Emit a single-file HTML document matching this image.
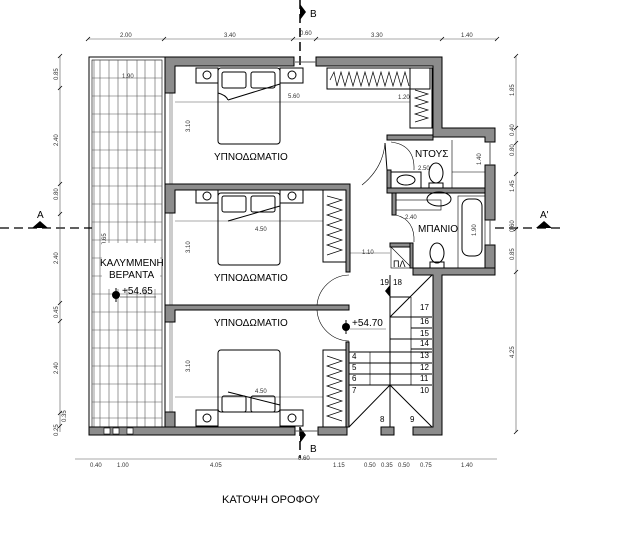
<!DOCTYPE html>
<html><head><meta charset="utf-8"><style>
html,body{margin:0;padding:0;background:#fff}
svg{display:block}
text{font-family:"Liberation Sans",sans-serif}
.w{fill:#8c8c8c;stroke:#000;stroke-width:1}
.t{stroke:#555;stroke-width:.6;fill:none}
.k{stroke:#000;stroke-width:1;fill:none}
.d{font-size:6px;fill:#333}
.r{font-size:10px;fill:#000}
</style></head><body>
<svg width="626" height="535" viewBox="0 0 626 535" xmlns="http://www.w3.org/2000/svg">
<!-- section lines -->
<line x1="300" y1="0" x2="300" y2="66" stroke="#000" stroke-width="1.5" stroke-dasharray="9,5"/>
<line x1="300" y1="427" x2="300" y2="458" stroke="#000" stroke-width="1.5" stroke-dasharray="9,5"/>
<line x1="0" y1="228" x2="92" y2="228" stroke="#000" stroke-width="1.2" stroke-dasharray="9,5"/>
<line x1="495" y1="228" x2="565" y2="228" stroke="#000" stroke-width="1.2" stroke-dasharray="9,5"/>
<polygon points="300,4 306,12 300,20" fill="#000"/><text x="310" y="17" class="r">B</text>
<polygon points="300,427 306,435 300,443" fill="#000"/><text x="310" y="452" class="r">B</text>
<polygon points="32,228 40,221 48,228" fill="#000"/><text x="37" y="218" class="r">A</text>
<polygon points="536,228 544,221 552,228" fill="#000"/><text x="540" y="218" class="r">A'</text>

<!-- dimension lines -->
<g class="t">
<line x1="88" y1="39" x2="497" y2="39"/>
<line x1="75" y1="459" x2="497" y2="459"/>
<line x1="60" y1="56" x2="60" y2="432"/>
<line x1="516" y1="56" x2="516" y2="432"/>
</g>
<g stroke="#000" stroke-width="0.8">
<line x1="86" y1="41" x2="90" y2="37"/><line x1="162" y1="41" x2="166" y2="37"/><line x1="291" y1="41" x2="295" y2="37"/><line x1="314" y1="41" x2="318" y2="37"/><line x1="440" y1="41" x2="444" y2="37"/><line x1="495" y1="41" x2="499" y2="37"/>
<line x1="58" y1="58" x2="62" y2="54"/><line x1="58" y1="90" x2="62" y2="86"/><line x1="58" y1="186" x2="62" y2="182"/><line x1="58" y1="216" x2="62" y2="212"/><line x1="58" y1="305" x2="62" y2="301"/><line x1="58" y1="323" x2="62" y2="319"/><line x1="58" y1="415" x2="62" y2="411"/><line x1="58" y1="428" x2="62" y2="424"/>
<line x1="514" y1="58" x2="518" y2="54"/><line x1="514" y1="130" x2="518" y2="126"/><line x1="514" y1="145" x2="518" y2="141"/><line x1="514" y1="176" x2="518" y2="172"/><line x1="514" y1="231" x2="518" y2="227"/><line x1="514" y1="274" x2="518" y2="270"/><line x1="514" y1="434" x2="518" y2="430"/>
</g>
<g class="d">
<text x="120" y="37">2.00</text><text x="224" y="37">3.40</text><text x="300" y="35">0.60</text><text x="371" y="37">3.30</text><text x="461" y="37">1.40</text>
<text x="90" y="467">0.40</text><text x="117" y="467">1.00</text><text x="210" y="467">4.05</text><text x="298" y="460">0.60</text><text x="333" y="467">1.15</text><text x="364" y="467">0.50</text><text x="381" y="467">0.35</text><text x="398" y="467">0.50</text><text x="420" y="467">0.75</text><text x="461" y="467">1.40</text>
<g transform="rotate(-90)">
<text x="-80" y="58">0.85</text><text x="-146" y="58">2.40</text><text x="-200" y="58">0.80</text><text x="-264" y="58">2.40</text><text x="-318" y="58">0.45</text><text x="-374" y="58">2.40</text><text x="-422" y="66">0.35</text><text x="-436" y="58">0.25</text>
<text x="-96" y="514">1.85</text><text x="-136" y="514">0.40</text><text x="-156" y="514">0.80</text><text x="-192" y="514">1.45</text><text x="-232" y="514">0.60</text><text x="-260" y="514">0.85</text><text x="-358" y="514">4.25</text>
<text x="-132" y="190">3.10</text><text x="-253" y="190">3.10</text><text x="-372" y="190">3.10</text><text x="-245" y="106">9.65</text>
<text x="-165" y="481">1.40</text><text x="-236" y="476">1.90</text>
</g>
<text x="122" y="78">1.90</text><text x="288" y="98">5.60</text><text x="398" y="99">1.20</text><text x="255" y="231">4.50</text><text x="255" y="393">4.50</text><text x="362" y="254">1.10</text><text x="418" y="170">2.50</text><text x="405" y="219">2.40</text>
</g>

<!-- veranda -->
<rect x="89" y="57" width="76" height="370" fill="none" stroke="#000" stroke-width="1"/>
<rect x="92" y="60" width="70" height="367" fill="none" stroke="#000" stroke-width=".6"/>
<g class="t">
<line x1="94" y1="60" x2="94" y2="427"/><line x1="100" y1="60" x2="100" y2="427"/><line x1="109" y1="60" x2="109" y2="427"/><line x1="118" y1="60" x2="118" y2="427"/><line x1="127" y1="60" x2="127" y2="427"/><line x1="137" y1="60" x2="137" y2="427"/><line x1="145" y1="60" x2="145" y2="427"/><line x1="155" y1="60" x2="155" y2="427"/>
<line x1="92" y1="78" x2="162" y2="78"/><line x1="92" y1="96" x2="162" y2="96"/><line x1="92" y1="114" x2="162" y2="114"/><line x1="92" y1="132" x2="162" y2="132"/><line x1="92" y1="150" x2="162" y2="150"/><line x1="92" y1="168" x2="162" y2="168"/><line x1="92" y1="186" x2="162" y2="186"/><line x1="92" y1="204" x2="162" y2="204"/><line x1="92" y1="222" x2="162" y2="222"/><line x1="92" y1="240" x2="162" y2="240"/><line x1="92" y1="258" x2="162" y2="258"/><line x1="92" y1="276" x2="162" y2="276"/><line x1="92" y1="294" x2="162" y2="294"/><line x1="92" y1="312" x2="162" y2="312"/><line x1="92" y1="330" x2="162" y2="330"/><line x1="92" y1="348" x2="162" y2="348"/><line x1="92" y1="366" x2="162" y2="366"/><line x1="92" y1="384" x2="162" y2="384"/><line x1="92" y1="402" x2="162" y2="402"/><line x1="92" y1="418" x2="162" y2="418"/>
<line x1="170" y1="93" x2="170" y2="184"/><line x1="172" y1="93" x2="172" y2="184"/><line x1="170" y1="213" x2="170" y2="305"/><line x1="172" y1="213" x2="172" y2="305"/><line x1="170" y1="322" x2="170" y2="412"/><line x1="172" y1="322" x2="172" y2="412"/>
<line x1="175" y1="102" x2="410" y2="102"/><line x1="175" y1="221" x2="323" y2="221"/><line x1="175" y1="397" x2="323" y2="397"/><line x1="349" y1="253" x2="390" y2="253"/>
</g>
<rect x="102" y="243" width="58" height="46" fill="#fff"/>
<text x="100" y="266" class="r" font-size="9.5">ΚΑΛΥΜΜΕΝΗ</text>
<text x="109" y="278" class="r" font-size="9.5">ΒΕΡΑΝΤΑ</text>
<circle cx="116" cy="295" r="4" fill="#000"/><line x1="116" y1="288" x2="116" y2="302" stroke="#000"/>
<text x="122" y="294" class="r" font-size="9.5">+54.65</text><line x1="120" y1="297" x2="156" y2="297" stroke="#000" stroke-width=".6"/>

<!-- walls -->
<g class="w">
<path d="M165,57 H294 V66 H175 V93 H165 Z"/>
<path d="M316,57 H442 V128 H495 V142 H485 V137 H433 V66 H316 Z"/>
<rect x="485" y="165" width="10" height="55"/>
<rect x="485" y="245" width="10" height="30"/>
<path d="M413,268 H495 V275 H442 V435 H413 V427 H433 V275 H413 Z"/>
<rect x="89" y="427" width="206" height="8"/>
<rect x="318" y="427" width="29" height="8"/>
<rect x="381" y="427" width="13" height="8"/>
<path d="M165,184 H350 V272 H346 V190 H175 V213 H165 Z"/>
<path d="M165,305 H349 V310 H175 V322 H165 Z"/>
<rect x="346" y="342" width="3" height="85"/>
<rect x="165" y="412" width="10" height="15"/>
<rect x="387" y="135" width="46" height="5"/>
<rect x="387" y="170" width="4" height="20"/>
<rect x="387" y="188" width="98" height="5"/>
<rect x="392" y="193" width="4" height="22"/>
<rect x="390" y="243" width="23" height="4"/>
<rect x="410" y="243" width="3" height="25"/>
</g>
<g fill="#fff" stroke="#000" stroke-width=".6">
<rect x="104" y="428" width="6" height="6"/><rect x="113" y="428" width="6" height="6"/><rect x="127" y="428" width="6" height="6"/>
</g>
<line x1="295" y1="62" x2="316" y2="62" stroke="#555"/><line x1="295" y1="431" x2="318" y2="431" stroke="#555"/>
<line x1="490" y1="142" x2="490" y2="165" stroke="#555"/><line x1="490" y1="220" x2="490" y2="245" stroke="#555"/>

<!-- beds -->
<g class="k" stroke-width=".8">
<rect x="218" y="68" width="62" height="76" rx="3"/><rect x="222" y="72" width="24" height="16" rx="2"/><rect x="251" y="72" width="24" height="16" rx="2"/><path d="M228,100 L280,84"/><path d="M218,93 Q226,95 228,100"/>
<rect x="196" y="68" width="22" height="15"/><rect x="280" y="68" width="23" height="15"/>
<circle cx="207" cy="75" r="4"/><circle cx="292" cy="75" r="4"/>
<rect x="218" y="193" width="62" height="72" rx="3"/><rect x="222" y="196" width="24" height="16" rx="2"/><rect x="251" y="196" width="24" height="16" rx="2"/><path d="M228,221 L280,206"/>
<rect x="196" y="190" width="22" height="13"/><rect x="280" y="190" width="23" height="13"/>
<circle cx="207" cy="196" r="4"/><circle cx="292" cy="196" r="4"/>
<rect x="218" y="350" width="62" height="62" rx="3"/><rect x="222" y="396" width="24" height="16" rx="2"/><rect x="251" y="396" width="24" height="16" rx="2"/><path d="M228,392 L280,405"/>
<rect x="196" y="410" width="22" height="16"/><rect x="280" y="410" width="23" height="16"/>
<circle cx="207" cy="418" r="4"/><circle cx="292" cy="418" r="4"/>
<!-- wardrobes -->
<rect x="327" y="68" width="103" height="21"/><rect x="410" y="68" width="22" height="60"/>
<polyline points="330,80 334,72 337,86 341,72 345,86 349,72 353,86 357,72 361,86 365,72 369,86 373,72 377,86 381,72 385,86 389,72 393,86 397,72 401,86 405,72 409,86" stroke-width=".7"/>
<polyline points="415,90 428,94 415,98 428,102 415,106 428,110 415,114 428,118 415,122" stroke-width=".7"/>
<rect x="323" y="190" width="23" height="72"/>
<polyline points="327,196 342,200 327,205 342,210 327,215 342,220 327,225 342,230 327,235 342,240 327,245 342,250 327,255" stroke-width=".7"/>
<rect x="323" y="350" width="23" height="77"/>
<polyline points="327,356 342,361 327,366 342,371 327,376 342,381 327,386 342,391 327,396 342,401 327,406 342,411 327,416 342,421" stroke-width=".7"/>
<!-- doors -->
<path d="M385,143 Q383,168 362,185" stroke-width=".6"/><line x1="385" y1="143" x2="387" y2="170"/>
<path d="M349,275 A33,33 0 0 0 317,305" stroke-width=".6"/>
<path d="M317,310 A33,33 0 0 0 349,341" stroke-width=".6"/>
<path d="M391,142 Q415,145 414,170" stroke-width=".6"/><path d="M396,215 Q415,220 414,242" stroke-width=".6"/>
<!-- bathroom fixtures -->
<rect x="391" y="172" width="30" height="16"/><ellipse cx="406" cy="180" rx="9" ry="5"/>
<rect x="429" y="183" width="14" height="5"/><ellipse cx="436" cy="173" rx="7" ry="10"/>
<line x1="452" y1="140" x2="452" y2="188" stroke-width=".6"/><line x1="452" y1="172" x2="485" y2="172" stroke-width=".6"/>
<rect x="396" y="200" width="45" height="10" stroke-width=".6"/><ellipse cx="439" cy="199" rx="12" ry="7"/>
<rect x="458" y="196" width="27" height="72" stroke-width=".6"/><rect x="462" y="199" width="20" height="57" rx="7"/>
<rect x="430" y="262" width="14" height="6"/><ellipse cx="437" cy="253" rx="7" ry="10"/>
<rect x="391" y="247" width="19" height="21" stroke-width=".6"/><line x1="391" y1="247" x2="410" y2="266" stroke-width=".6"/>
<!-- stairs -->
<line x1="390" y1="275" x2="390" y2="427"/>
<line x1="411" y1="297" x2="411" y2="385" stroke-width=".7"/>
<line x1="349" y1="352" x2="432" y2="352"/><line x1="349" y1="363" x2="432" y2="363"/><line x1="349" y1="374" x2="432" y2="374"/><line x1="349" y1="385" x2="432" y2="385"/>
<line x1="390" y1="317" x2="432" y2="317"/><line x1="411" y1="328" x2="432" y2="328"/><line x1="390" y1="339" x2="432" y2="339"/><line x1="411" y1="349" x2="432" y2="349"/><line x1="390" y1="297" x2="411" y2="297"/>
<line x1="370" y1="352" x2="370" y2="385" stroke-width=".6"/>
<line x1="390" y1="385" x2="349" y2="427"/><line x1="390" y1="385" x2="432" y2="427"/><line x1="432" y1="275" x2="390" y2="317"/>
</g>
<polygon points="390,285 385,291 390,297" fill="#000"/>
<g font-size="8" fill="#000">
<text x="380" y="285">19</text><text x="393" y="285">18</text><text x="420" y="310">17</text><text x="420" y="324">16</text><text x="420" y="336">15</text><text x="420" y="346">14</text><text x="420" y="358">13</text><text x="420" y="370">12</text><text x="420" y="381">11</text><text x="420" y="393">10</text>
<text x="352" y="359">4</text><text x="352" y="370">5</text><text x="352" y="381">6</text><text x="352" y="393">7</text><text x="380" y="422">8</text><text x="410" y="422">9</text>
</g>
<text x="393" y="267" font-size="9" fill="#000">ΠΛ</text>
<circle cx="346" cy="327" r="4" fill="#000"/><line x1="346" y1="320" x2="346" y2="334" stroke="#000"/>
<text x="352" y="326" class="r" font-size="9.5">+54.70</text><line x1="350" y1="329" x2="386" y2="329" stroke="#555" stroke-width=".6"/>

<!-- room labels -->
<g class="r" font-size="9.5">
<text x="214" y="160">ΥΠΝΟΔΩΜΑΤΙΟ</text>
<text x="214" y="281">ΥΠΝΟΔΩΜΑΤΙΟ</text>
<text x="214" y="326">ΥΠΝΟΔΩΜΑΤΙΟ</text>
<text x="415" y="157">ΝΤΟΥΣ</text>
<text x="418" y="232">ΜΠΑΝΙΟ</text>
</g>
<text x="222" y="503" font-size="11" fill="#000">ΚΑΤΟΨΗ ΟΡΟΦΟΥ</text>
</svg>
</body></html>
